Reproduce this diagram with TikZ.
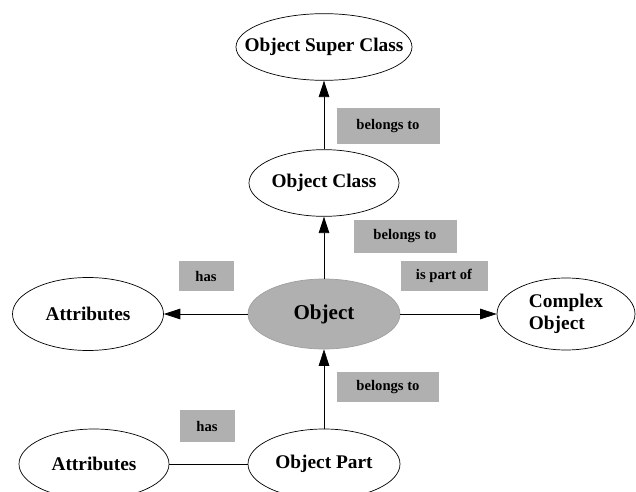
\documentclass[tikz,border=0pt]{standalone}
\usepackage{fontspec}
\setmainfont{Liberation Serif}
\usetikzlibrary{shapes.geometric,arrows.meta}

\begin{document}
\begin{tikzpicture}[x=0.3mm,y=-0.3mm,
    bubble/.style={ellipse,draw,line width=0.6pt,inner sep=0pt,font=\bfseries\fontsize{16.5}{19}\selectfont},
    tag/.style={fill=gray!62,inner sep=0pt,font=\bfseries\fontsize{12.5}{14}\selectfont},
    arr/.style={line width=0.6pt,-{Triangle[length=14pt,width=9pt]}}]
                    \useasboundingbox (0,0) rectangle (636,492);
                    \path
                    (324,47) node[bubble,minimum width=52.8mm,minimum height=20mm](sup) {\makebox[0pt]{Object Super Class}}
                    (324,183) node[bubble,minimum width=45mm,minimum height=20mm](cls) {\makebox[0pt]{Object Class}}
                    (324,314) node[bubble,draw=gray!75,fill=gray!62,minimum width=45.6mm,minimum height=21mm,font=\bfseries\fontsize{18}{20}\selectfont](obj) {\makebox[0pt]{Object}}
                    (88,314) node[bubble,minimum width=45.3mm,minimum height=21.9mm](attr) {\makebox[0pt]{Attributes}}
                    (566,314) node[bubble,minimum width=41.4mm,minimum height=21.6mm](cplx) {\makebox[0pt]{\begin{tabular}{@{}l@{}}Complex\\Object\end{tabular}}}
                    (324,464) node[bubble,minimum width=45.6mm,minimum height=21mm](part) {\makebox[0pt]{Object Part}}
                    (94,464) node[bubble,minimum width=45mm,minimum height=21mm](attrb) {\makebox[0pt]{Attributes}};

                    \path
                    (388,126) node[tag,minimum width=30.9mm,minimum height=11mm](belA) {belongs to}
                    (405,236) node[tag,minimum width=30.9mm,minimum height=9.9mm](belB) {belongs to}
                    (206,276) node[tag,minimum width=16.5mm,minimum height=9mm](hasA) {has}
                    (444,276) node[tag,minimum width=26.1mm,minimum height=9mm](partof) {is part of}
                    (388,387) node[tag,minimum width=30.6mm,minimum height=9mm](belC) {belongs to}
                    (207,426) node[tag,minimum width=16.5mm,minimum height=9.6mm](hasB) {has};

                    \draw[arr] (cls) -- (sup);
                    \draw[arr] (obj) -- (cls);
                    \draw[arr] (obj) -- (attr);
                    \draw[arr] (obj) -- (cplx);
                    \draw[arr] (part) -- (obj);
                    \draw[line width=0.6pt] (attrb) -- (part);
                \end{tikzpicture}
\end{document}
